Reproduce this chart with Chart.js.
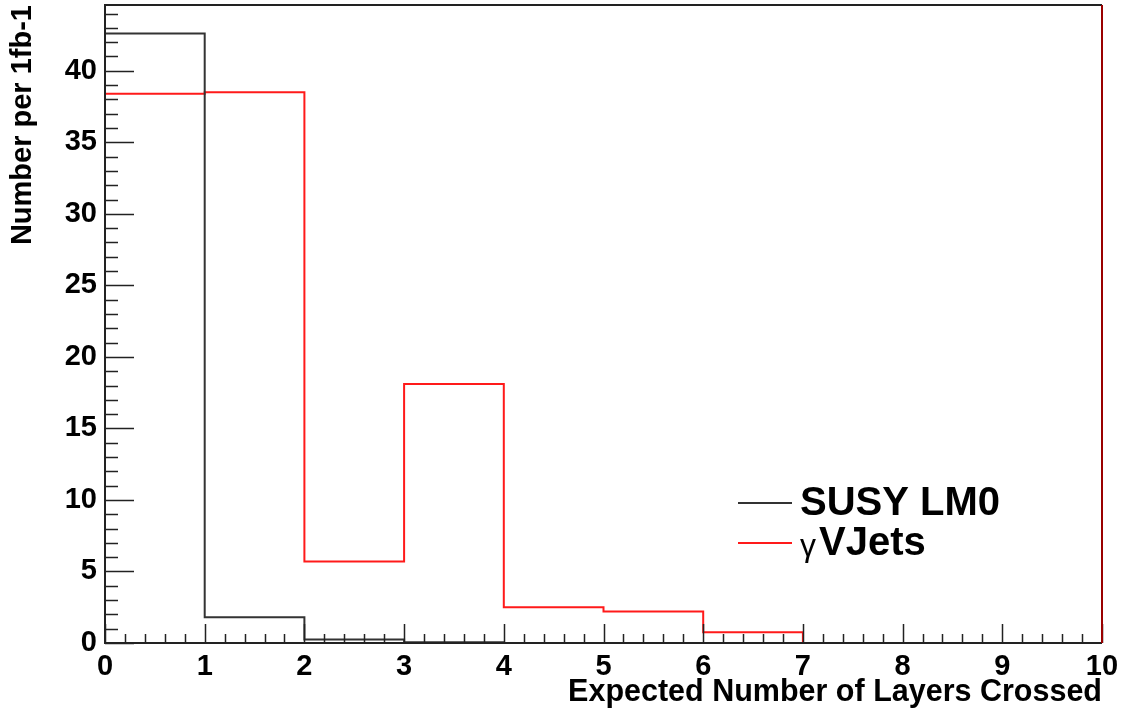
<!DOCTYPE html>
<html>
<head>
<meta charset="utf-8">
<script src="https://cdn.jsdelivr.net/npm/chart.js@4"></script>
<style>
  html, body { margin: 0; padding: 0; background: #fff; }
  #wrap { width: 1123px; height: 713px; position: relative; }
</style>
</head>
<body>
<div id="wrap"><canvas id="histChart" width="1123" height="713"></canvas></div>
<script>
// ビン（左端）とヒストグラムの値
const binEdges = [0, 1, 2, 3, 4, 5, 6, 7, 8, 9, 10];
const susyLM0 = [42.6, 1.8, 0.25, 0.05, 0, 0, 0, 0, 0, 0];
const gammaVJets = [38.4, 38.5, 5.7, 18.1, 2.5, 2.2, 0.75, 0, 0, 0];
const yTicks = [0, 5, 10, 15, 20, 25, 30, 35, 40];

// ステップ用の点列を作る
function toSteps(values) {
    const pts = [{ x: binEdges[0], y: 0 }];
    values.forEach((v, i) => pts.push({ x: binEdges[i], y: v }));
    pts.push({ x: binEdges[binEdges.length - 1], y: values[values.length - 1] });
    return pts;
}

const FONT = '"Liberation Sans", Arial, Helvetica, sans-serif';

// 内向きの目盛りと枠
const framePlugin = {
    id: 'frame',
    afterDatasetsDraw(chart) {
        const { ctx, chartArea: a, scales } = chart;
        const xs = scales.x, ys = scales.y;
        ctx.save();
        ctx.strokeStyle = '#222';
        ctx.lineWidth = 1.5;
        ctx.beginPath();
        for (let v = 0; v <= 10.001; v += 0.2) {
            const px = Math.round(xs.getPixelForValue(v)) + 0.5;
            const major = Math.abs(v - Math.round(v)) < 1e-6;
            ctx.moveTo(px, a.bottom);
            ctx.lineTo(px, a.bottom - (major ? 19 : 9));
        }
        for (let v = 0; v <= ys.max; v += 1) {
            const py = Math.round(ys.getPixelForValue(v)) + 0.5;
            ctx.moveTo(a.left, py);
            ctx.lineTo(a.left + (v % 5 === 0 ? 29 : 13), py);
        }
        ctx.stroke();
        ctx.lineWidth = 2;
        ctx.strokeStyle = '#222';
        ctx.beginPath();
        ctx.moveTo(a.right, a.top);
        ctx.lineTo(a.left, a.top);
        ctx.lineTo(a.left, a.bottom);
        ctx.lineTo(a.right, a.bottom);
        ctx.stroke();
        ctx.strokeStyle = '#9a0000';
        ctx.beginPath();
        ctx.moveTo(a.right, a.top);
        ctx.lineTo(a.right, a.bottom);
        ctx.stroke();
        ctx.restore();
    },
    afterDraw(chart) {
        // 凡例
        const { ctx } = chart;
        const rows = [503, 543];
        ctx.save();
        ctx.textBaseline = 'middle';
        chart.data.datasets.forEach((ds, i) => {
            const y = rows[i];
            ctx.strokeStyle = ds.borderColor;
            ctx.lineWidth = 2;
            ctx.beginPath();
            ctx.moveTo(738, y);
            ctx.lineTo(792, y);
            ctx.stroke();
            ctx.fillStyle = '#000';
            let x = 800;
            let text = ds.label;
            if (text.startsWith('γ')) {
                ctx.font = '32px ' + FONT;
                ctx.fillText('γ', x, y + 4);
                x += ctx.measureText('γ').width + 3;
                text = text.slice(1).trim();
            }
            ctx.font = 'bold 40px ' + FONT;
            ctx.fillText(text, x, y + 1);
        });
        ctx.restore();
    }
};

new Chart(document.getElementById('histChart'), {
    type: 'line',
    data: {
        datasets: [
            {
                label: 'SUSY LM0',
                data: toSteps(susyLM0),
                borderColor: '#333333',
                borderWidth: 2,
                stepped: true,
                pointRadius: 0,
                fill: false
            },
            {
                label: 'γ VJets',
                data: toSteps(gammaVJets),
                borderColor: '#ff1a1a',
                borderWidth: 2,
                stepped: true,
                pointRadius: 0,
                fill: false
            }
        ]
    },
    options: {
        responsive: false,
        animation: false,
        layout: { padding: { left: 6, top: 5, right: 21, bottom: 0 } },
        plugins: { legend: { display: false }, tooltip: { enabled: false } },
        scales: {
            x: {
                type: 'linear',
                min: 0,
                max: 10,
                grid: { display: false, drawTicks: false },
                border: { display: false },
                ticks: {
                    stepSize: 1,
                    padding: 7,
                    color: '#000',
                    font: { family: FONT, size: 29, weight: 'bold' }
                },
                title: {
                    display: true,
                    text: 'Expected Number of Layers Crossed',
                    align: 'end',
                    color: '#000',
                    padding: { top: 0, bottom: 2 },
                    font: { family: FONT, size: 30.5, weight: 'bold' }
                },
                afterFit(s) { s.height = 70; s.paddingLeft = 0; s.paddingRight = 0; }
            },
            y: {
                type: 'linear',
                min: 0,
                max: 44.6,
                grid: { display: false, drawTicks: false },
                border: { display: false },
                afterBuildTicks(s) { s.ticks = yTicks.map(v => ({ value: v })); },
                ticks: {
                    padding: 8,
                    color: '#000',
                    font: { family: FONT, size: 29, weight: 'bold' }
                },
                title: {
                    display: true,
                    text: 'Number per 1fb-1',
                    align: 'end',
                    color: '#000',
                    padding: { top: 0, bottom: 0 },
                    font: { family: FONT, size: 29, weight: 'bold' }
                },
                afterFit(s) { s.width = 99; s.paddingTop = 0; s.paddingBottom = 0; }
            }
        }
    },
    plugins: [framePlugin]
});
</script>
</body>
</html>
